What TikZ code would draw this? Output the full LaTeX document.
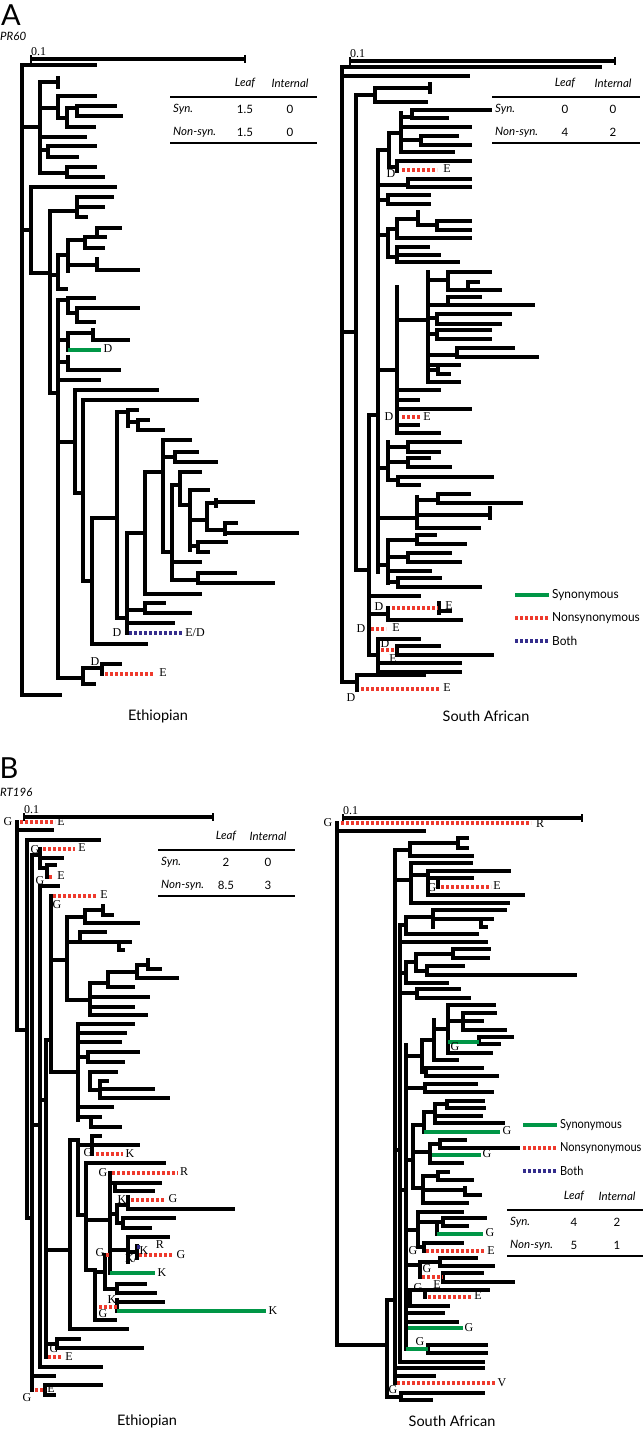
\documentclass[tikz,border=0pt]{standalone}
\usepackage{fontspec}
\setmainfont{Liberation Serif}
\newfontfamily\gillfont{Lato}
\usetikzlibrary{positioning}
\definecolor{syngreen}{RGB}{0,150,70}
\definecolor{nsred}{RGB}{238,58,45}
\definecolor{bothblue}{RGB}{52,45,140}

\begin{document}
\begin{tikzpicture}[x=1pt,y=-1pt,
    br/.style={line width=3.3pt,line cap=rect},
    syn/.style={line width=3.3pt,syngreen},
    nonsyn/.style={line width=3.3pt,nsred,dash pattern=on 3pt off 2pt},
    both/.style={line width=3.3pt,bothblue,dash pattern=on 3pt off 2pt},
    bar/.style={line width=3.3pt},
    endtick/.style={line width=2.6pt},
    rule/.style={line width=1.8pt},
    st/.style={inner sep=0pt,font=\fontsize{12}{12}\selectfont},
    tx/.style={inner sep=0pt,font=\gillfont\fontsize{11.5}{11.5}\selectfont},
    itx/.style={inner sep=0pt,font=\gillfont\itshape\fontsize{11.5}{11.5}\selectfont},
    lg/.style={inner sep=0pt,anchor=west,font=\gillfont\fontsize{12.5}{12.5}\selectfont},
    ttl/.style={inner sep=0pt,font=\gillfont\fontsize{14.5}{14.5}\selectfont},
    pnl/.style={inner sep=0pt,font=\gillfont\fontsize{29}{29}\selectfont}]
\useasboundingbox (0,0) rectangle (643,1429);

% panel headings
\node[pnl] (pa) at (11,15) {A};
\node[itx,anchor=west] (pr) at (0,36) {PR60};
\node[pnl] (pb) at (9,768) {B};
\node[itx,anchor=west] (rt) at (0,792) {RT196};

% scale bars
\foreach \a/\b/\y/\t in {31/245/59/ast, 350/615/61/bst, 24/213/817/cst, 343/582/818/dst}{
  \draw[bar] (\a,\y) -- (\b,\y);
  \draw[endtick] (\a,\y-4) -- (\a,\y+4);
  \draw[endtick] (\b,\y-4) -- (\b,\y+4);
  \node[st,anchor=south west] (\t) at (\a,\y-3) {0.1};
}

% A, Ethiopian
\foreach \x/\a/\b in {22/65/695, 40/82/173, 58/78/87, 58/96/118, 67/108/127, 77/106/116,
  48/146/157, 67/167/177, 31/187/273, 50/211/393, 77/197/217, 58/255/289, 68/240/271,
  85/237/248, 97/228/237, 97/259/270, 58/300/678, 68/298/313, 77/308/322, 68/333/350,
  93/330/340, 68/357/370, 75/390/493, 83/400/581, 92/518/644, 117/412/618, 128/410/426,
  138/420/430, 127/533/633, 145/472/594, 163/440/552, 175/452/462, 172/485/580,
  180/472/505, 190/490/550, 207/503/530, 216/500/506, 225/523/534, 198/542/552,
  198/573/583, 145/603/613, 83/668/684, 102/664/674}
  \draw[br] (\x,\a) -- (\x,\b);
\foreach \y/\a/\b in {65/22/95, 127/22/40, 82/40/58, 108/40/58, 96/58/95, 118/58/67,
  108/67/77, 106/77/115, 116/77/121, 127/67/94, 137/40/85, 150/40/48, 146/48/95,
  157/48/77, 173/40/67, 167/67/95, 177/67/103, 230/22/31, 187/31/115, 273/31/50,
  211/50/77, 197/77/112, 207/77/103, 217/77/86, 275/50/58, 255/58/68, 240/68/85,
  237/85/105, 228/97/120, 248/85/103, 265/68/97, 270/97/138, 289/58/66, 393/50/58,
  300/58/68, 298/68/94, 313/68/77, 308/77/138, 322/77/94, 340/58/68, 333/68/93,
  340/93/128, 362/58/68, 370/68/119, 380/58/99, 442/58/75, 390/75/157, 493/75/83,
  400/83/197, 581/83/92, 518/92/117, 412/117/128, 410/128/137, 422/128/138,
  420/138/148, 430/138/163, 618/117/127, 533/127/145, 472/145/163, 440/163/190,
  457/163/175, 452/175/197, 462/175/216, 552/163/172, 485/172/180, 472/180/200,
  505/180/190, 490/190/208, 520/190/207, 503/207/216, 502/216/253, 530/207/225,
  523/225/236, 533/225/297, 546/190/198, 542/198/226, 552/198/208, 562/172/200,
  580/172/198, 573/198/235, 583/198/273, 594/145/200, 610/127/145, 603/145/164,
  613/145/190, 623/127/173, 644/92/146, 678/58/83, 668/83/102, 664/102/120,
  684/83/94, 695/22/60}
  \draw[br] (\a,\y) -- (\b,\y);
\draw[syn] (68,350) -- (101,350);
\draw[both] (129,633) -- (183,633);
\draw[nonsyn] (105,674) -- (153,674);
\node[st] (ea1) at (108,349) {D};
\node[st] (ea2) at (117,633) {D};
\node[st] (ea3) at (195,633) {E/D};
\node[st] (ea4) at (95,662) {D};
\node[st] (ea5) at (163,673) {E};

% A, South African
\foreach \x/\a/\b in {342/67/682, 356/95/570, 375/88/102, 430/84/92, 378/150/572,
  389/133/167, 401/113/152, 412/110/118, 421/136/145, 397/161/171, 408/179/187,
  388/195/204, 388/229/257, 397/219/238, 418/212/225, 437/221/230, 397/247/262,
  397/287/433, 428/272/382, 448/272/290, 468/282/290, 448/297/305, 437/314/324,
  437/330/339, 457/348/357, 438/365/374, 388/442/480, 408/442/452, 408/458/467,
  398/477/485, 417/497/528, 438/494/503, 490/508/518, 388/540/583, 417/535/544,
  408/553/562, 398/578/587, 369/415/655, 439/603/613, 388/608/620, 378/639/672,
  397/646/655, 357/675/690}
  \draw[br] (\x,\a) -- (\x,\b);
\foreach \y/\a/\b in {67/342/600, 76/342/468, 332/342/356, 95/356/375, 88/375/430,
  102/375/426, 150/378/389, 133/389/401, 117/401/412, 110/412/490, 118/412/447,
  127/401/470, 140/401/421, 136/421/457, 145/421/470, 152/401/453, 167/389/397,
  161/397/470, 185/378/408, 179/408/470, 187/408/470, 200/378/388, 195/388/429,
  204/388/429, 235/378/388, 229/388/397, 219/397/418, 225/418/437, 221/437/470,
  230/437/470, 238/397/470, 257/388/397, 247/397/428, 255/397/439, 262/397/458,
  370/378/397, 320/397/428, 280/428/448, 272/448/490, 290/448/468, 282/468/478,
  290/468/500, 305/428/448, 297/448/480, 305/448/533, 318/428/437, 314/437/510,
  324/437/500, 334/428/437, 330/437/490, 339/437/490, 355/428/457, 348/457/513,
  357/457/537, 365/428/459, 370/428/438, 374/438/449, 382/428/459, 390/397/439,
  400/397/418, 409/397/470, 425/397/418, 433/397/439, 468/378/388, 447/388/408,
  442/408/460, 452/408/439, 462/388/408, 458/408/429, 467/408/450, 480/388/398,
  477/398/492, 485/398/419, 518/378/417, 500/417/438, 494/438/469, 503/438/521,
  515/417/490, 528/417/479, 565/378/388, 540/388/417, 535/417/435, 544/417/465,
  557/388/408, 553/408/450, 562/408/460, 571/388/430, 582/388/398, 578/398/440,
  587/398/480, 570/356/369, 415/369/378, 596/369/419, 614/369/388, 611/439/450,
  620/388/461, 655/369/378, 639/378/419, 646/397/439, 655/397/492, 663/378/460,
  672/378/460, 682/342/357, 675/357/424}
  \draw[br] (\a,\y) -- (\b,\y);
\foreach \y/\a/\b in {170/402/437, 417/402/420, 608/392/438, 629/371/386, 650/381/396,
  689/361/439}
  \draw[nonsyn] (\a,\y) -- (\b,\y);
\node[st] (sa1) at (391,174) {D};
\node[st] (sa2) at (447,169) {E};
\node[st] (sa3) at (389,417) {D};
\node[st] (sa4) at (427,417) {E};
\node[st] (sa5) at (379,607) {D};
\node[st] (sa6) at (449,606) {E};
\node[st] (sa7) at (361,629) {D};
\node[st] (sa8) at (396,628) {E};
\node[st] (sa9) at (385,644) {D};
\node[st] (sa10) at (393,659) {E};
\node[st] (sa11) at (351,698) {D};
\node[st] (sa12) at (447,688) {E};

% B, Ethiopian
\foreach \x/\a/\b in {17/822/1030, 27/840/1218, 32/855/1390, 40/849/868, 47/865/877,
  40/886/1367, 45/1385/1395, 46/1040/1357, 51/896/1072, 67/917/1000, 85/910/923,
  103/906/915, 80/932/942, 119/942/950, 90/983/1015, 108/972/987, 137/965/978,
  148/960/969, 78/1024/1120, 88/1052/1062, 90/1072/1090, 100/1081/1098,
  91/1117/1127, 70/1140/1329, 78/1140/1215, 92/1136/1154, 86/1163/1270,
  110/1173/1273, 115/1183/1191, 117/1205/1223, 123/1218/1228, 128/1197/1209,
  128/1237/1262, 137/1246/1258, 95/1272/1320, 105/1255/1289, 117/1284/1293,
  117/1300/1311, 57/1339/1348}
  \draw[br] (\x,\a) -- (\x,\b);
\foreach \y/\a/\b in {830/17/52, 1030/17/27, 840/27/99, 1218/27/32, 855/32/40,
  858/40/62, 868/40/47, 865/47/55, 1376/32/54, 1385/45/101, 1395/45/54, 1125/32/40,
  886/40/58, 1367/40/101, 1100/40/46, 1040/46/51, 960/51/67, 917/67/85, 910/85/103,
  915/103/112, 923/85/138, 942/67/80, 932/80/105, 942/80/119, 942/119/130,
  950/119/123, 1000/67/90, 983/90/108, 972/108/137, 965/137/148, 969/148/160,
  978/137/177, 987/108/133, 997/90/148, 1007/90/133, 1015/90/146, 1072/51/78,
  1024/78/133, 1033/78/125, 1042/78/120, 1057/78/88, 1052/88/138, 1062/88/123,
  1072/90/116, 1090/90/100, 1081/100/107, 1089/100/153, 1098/100/168, 1107/78/112,
  1117/78/100, 1127/91/120, 1250/46/70, 1140/70/78, 1329/70/127, 1145/78/92,
  1136/92/100, 1145/92/138, 1215/78/86, 1163/86/164, 1270/86/95, 1220/86/110,
  1183/110/160, 1191/115/153, 1214/110/117, 1205/117/128, 1209/128/233,
  1223/117/123, 1218/123/174, 1228/123/150, 1250/110/128, 1237/128/168,
  1252/128/137, 1272/95/105, 1289/105/117, 1284/117/145, 1293/117/155,
  1320/95/115, 1302/117/163, 1344/46/57, 1339/57/79, 1348/57/142}
  \draw[br] (\a,\y) -- (\b,\y);
\foreach \y/\a/\b in {822/20/55, 849/43/75, 877/49/53, 896/53/97, 1154/96/123,
  1173/112/178, 1200/131/165, 1255/139/173, 1255/106/110, 1307/99/117, 1357/48/62,
  1390/35/45}
  \draw[nonsyn] (\a,\y) -- (\b,\y);
\draw[syn] (110,1273) -- (155,1273);
\draw[syn] (117,1311) -- (266,1311);
\draw[both] (137,1247) -- (142,1247);
\node[st] (eb1) at (8,822) {G};
\node[st] (eb2) at (61,822) {E};
\node[st] (eb3) at (35,850) {G};
\node[st] (eb4) at (82,848) {E};
\node[st] (eb5) at (40,881) {G};
\node[st] (eb6) at (61,876) {E};
\node[st] (eb7) at (104,895) {E};
\node[st] (eb8) at (57,905) {G};
\node[st] (eb9) at (88,1153) {G};
\node[st] (eb10) at (130,1154) {K};
\node[st] (eb11) at (103,1173) {G};
\node[st] (eb12) at (184,1172) {R};
\node[st] (eb13) at (122,1200) {K};
\node[st] (eb14) at (173,1199) {G};
\node[st] (eb15) at (160,1245) {R};
\node[st] (eb16) at (144,1251) {K};
\node[st] (eb17) at (131,1259) {K/};
\node[st] (eb18) at (181,1255) {G};
\node[st] (eb19) at (100,1253) {G};
\node[st] (eb20) at (162,1273) {K};
\node[st] (eb21) at (112,1300) {K};
\node[st] (eb22) at (103,1314) {G};
\node[st] (eb23) at (273,1311) {K};
\node[st] (eb24) at (54,1349) {G};
\node[st] (eb25) at (69,1357) {E};
\node[st] (eb26) at (51,1389) {E};
\node[st] (eb27) at (27,1398) {G};

% B, South African
\foreach \x/\a/\b in {337/823/1345, 395/850/1383, 410/843/856, 458/838/848,
  411/863/903, 428/871/895, 438/878/887, 400/925/1362, 406/917/934, 433/910/927,
  481/919/927, 406/962/983, 416/954/971, 453/949/958, 427/966/975, 417/989/998,
  406/1045/1349, 422/1040/1072, 426/1068/1076, 434/1020/1060, 448/1005/1053,
  463/1013/1030, 479/1037/1044, 425/1084/1092, 413/1125/1188, 424/1112/1132,
  435/1104/1123, 447/1101/1108, 430/1144/1163, 440/1140/1148, 423/1176/1203,
  438/1172/1180, 465/1188/1195, 418/1212/1247, 437/1222/1234, 443/1218/1226,
  424/1243/1251, 420/1262/1277, 440/1258/1266, 443/1273/1282, 410/1290/1306,
  425/1290/1297, 428/1345/1353, 387/1300/1397, 401/1393/1400}
  \draw[br] (\x,\a) -- (\x,\b);
\foreach \y/\a/\b in {831/337/424, 1345/337/387, 850/395/410, 843/410/458,
  838/458/467, 848/458/467, 856/410/472, 880/395/411, 863/411/471, 875/411/428,
  871/428/509, 878/428/472, 895/428/523, 903/411/508, 1150/395/400, 925/400/406,
  917/406/433, 910/433/505, 919/433/492, 927/481/486, 934/406/477, 942/400/486,
  973/400/406, 962/406/416, 954/416/453, 949/453/489, 958/453/488, 971/416/427,
  966/427/463, 975/427/575, 983/406/447, 993/400/417, 989/417/459, 998/417/469,
  1190/400/406, 1056/406/422, 1040/422/434, 1029/434/448, 1005/448/494,
  1021/448/482, 1013/463/495, 1030/463/505, 1053/448/491, 1037/479/512,
  1044/479/499, 1060/434/457, 1072/422/426, 1068/426/482, 1076/426/497,
  1088/406/425, 1084/425/476, 1092/425/492, 1160/406/413, 1125/413/424,
  1112/424/435, 1104/435/447, 1101/447/483, 1108/447/484, 1116/435/481,
  1123/435/503, 1152/413/430, 1144/430/440, 1140/440/465, 1148/440/518,
  1163/430/462, 1188/413/423, 1176/423/438, 1172/438/448, 1180/438/472,
  1190/423/465, 1195/465/480, 1203/423/467, 1230/406/418, 1212/418/462,
  1222/418/443, 1218/443/485, 1226/443/467, 1247/418/424, 1243/424/462,
  1265/406/420, 1262/420/440, 1258/440/476, 1266/440/493, 1282/443/513,
  1273/443/482, 1298/406/410, 1290/410/488, 1306/410/448, 1313/406/443,
  1322/406/457, 1345/428/486, 1353/428/486, 1362/400/483, 1368/395/483,
  1376/395/434, 1300/387/395, 1397/387/401, 1393/401/483, 1400/401/431}
  \draw[br] (\a,\y) -- (\b,\y);
\foreach \y/\a/\b in {1042/448/479, 1132/424/500, 1155/432/481, 1234/437/483,
  1328/408/463, 1349/406/428}
  \draw[syn] (\a,\y) -- (\b,\y);
\foreach \y/\a/\b in {823/341/531, 887/441/491, 1251/426/485, 1277/422/443,
  1297/428/472, 1383/397/495}
  \draw[nonsyn] (\a,\y) -- (\b,\y);
\node[st] (sb1) at (328,823) {G};
\node[st] (sb2) at (540,824) {R};
\node[st] (sb3) at (432,888) {G};
\node[st] (sb4) at (497,886) {E};
\node[st] (sb5) at (455,1047) {G};
\node[st] (sb6) at (507,1131) {G};
\node[st] (sb7) at (487,1154) {G};
\node[st] (sb8) at (490,1233) {G};
\node[st] (sb9) at (413,1251) {G};
\node[st] (sb10) at (491,1251) {E};
\node[st] (sb11) at (427,1269) {G};
\node[st] (sb12) at (437,1285) {E};
\node[st] (sb13) at (418,1288) {G};
\node[st] (sb14) at (478,1296) {E};
\node[st] (sb15) at (469,1328) {G};
\node[st] (sb16) at (420,1342) {G};
\node[st] (sb17) at (393,1390) {G};
\node[st] (sb18) at (502,1383) {V};

% tables
\foreach \l/\r/\top/\c/\d/\sa/\sb/\na/\nb/\t in {
  170/317/83/245/290/1.5/0/1.5/0/ta,
  492/640/83/565/613/0/0/4/2/tb,
  158/295/836/226/268/2/0/8.5/3/tc,
  507/643/1196/574/617/4/2/5/1/td}{
  \node[itx] (\t leaf) at (\c,\top) {Leaf};
  \node[itx] (\t int) at (\d,\top) {Internal};
  \draw[rule] (\l,\top+14) -- (\r,\top+14);
  \node[itx,anchor=west] (\t syn) at (\l+3,\top+26) {Syn.};
  \node[tx] (\t sa) at (\c,\top+26) {\sa};
  \node[tx] (\t sb) at (\d,\top+26) {\sb};
  \node[itx,anchor=west] (\t non) at (\l+3,\top+49) {Non-syn.};
  \node[tx] (\t na) at (\c,\top+49) {\na};
  \node[tx] (\t nb) at (\d,\top+49) {\nb};
  \draw[rule] (\l,\top+60) -- (\r,\top+60);
}

% legends
\foreach \x/\y/\s/\t in {515/595/0.95/la, 523/1125/0.88/lb}{
  \draw[syn] (\x,\y) -- (\x+34,\y);
  \node[lg] (\t syn) at (\x+37,\y) {\scalebox{\s}[1]{Synonymous}};
  \draw[nonsyn] (\x,\y+23) -- (\x+34,\y+23);
  \node[lg] (\t non) at (\x+37,\y+23) {\scalebox{\s}[1]{Nonsynonymous}};
  \draw[both] (\x,\y+46) -- (\x+34,\y+46);
  \node[lg] (\t both) at (\x+37,\y+46) {\scalebox{\s}[1]{Both}};
}

% titles
\node[ttl] (ta1) at (158,716) {Ethiopian};
\node[ttl] (ta2) at (486,716) {South African};
\node[ttl] (tb1) at (147,1421) {Ethiopian};
\node[ttl] (tb2) at (452,1421) {South African};
\end{tikzpicture}
\end{document}
